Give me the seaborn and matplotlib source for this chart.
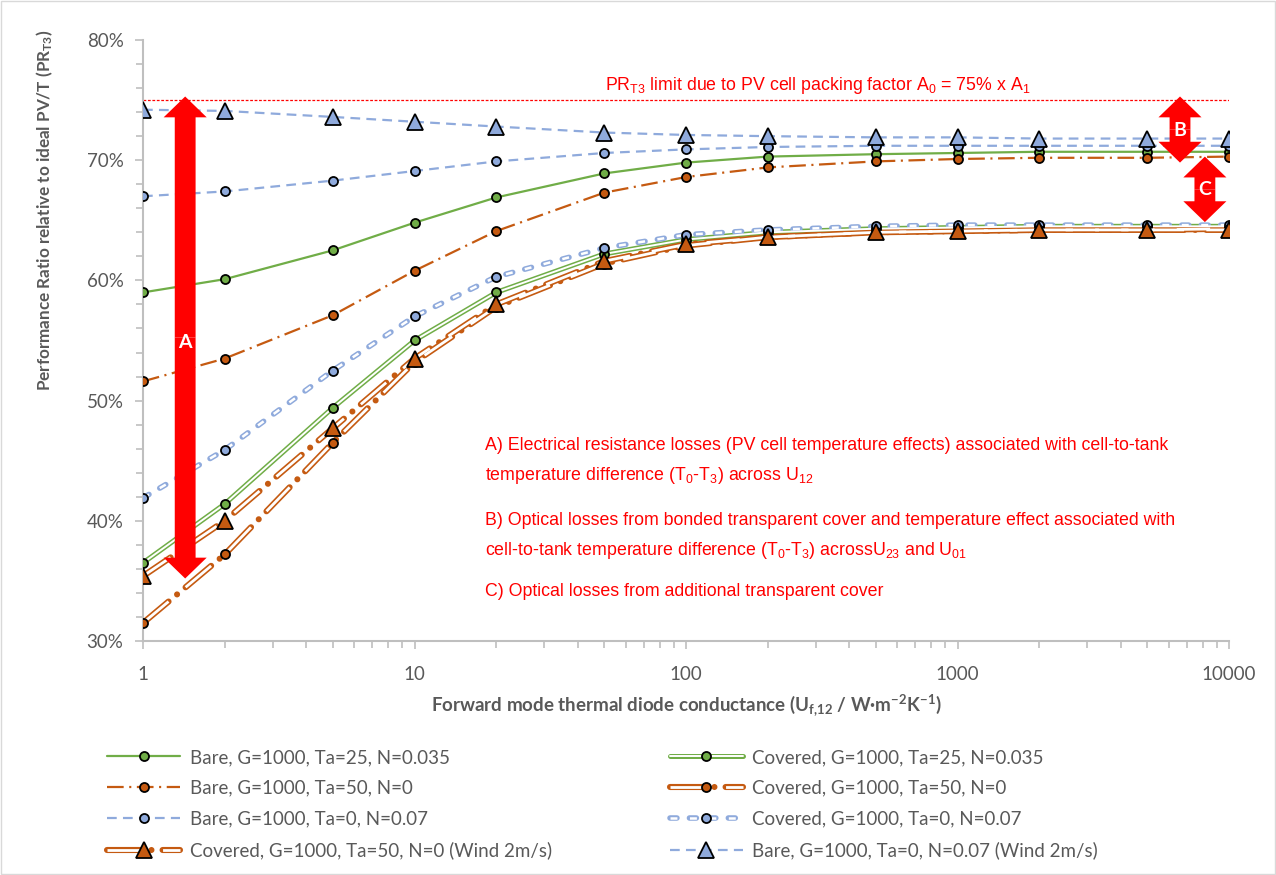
import matplotlib
matplotlib.use("Agg")
import matplotlib.pyplot as plt
import matplotlib.ticker as mticker
from matplotlib.patches import FancyArrowPatch, Rectangle
from matplotlib.legend_handler import HandlerTuple
import seaborn as sns

# ---------------------------------------------------------------------------
# Data (performance ratio in %)
# ---------------------------------------------------------------------------
conductance = [1, 2, 5, 10, 20, 50, 100, 200, 500, 1000, 2000, 5000, 10000]

bare_25 = [59.0, 60.1, 62.5, 64.8, 66.9, 68.9, 69.8, 70.3, 70.5, 70.6, 70.7, 70.7, 70.7]
bare_50 = [51.6, 53.5, 57.1, 60.8, 64.1, 67.3, 68.6, 69.4, 69.9, 70.1, 70.2, 70.2, 70.3]
bare_0 = [67.0, 67.4, 68.3, 69.1, 69.9, 70.6, 70.9, 71.1, 71.2, 71.2, 71.2, 71.2, 71.2]
bare_0_wind = [74.2, 74.1, 73.6, 73.2, 72.8, 72.3, 72.1, 72.0, 71.9, 71.9, 71.8, 71.8, 71.8]
cov_25 = [36.5, 41.4, 49.4, 55.0, 59.0, 62.2, 63.4, 64.0, 64.3, 64.4, 64.5, 64.5, 64.5]
cov_50 = [31.5, 37.2, 46.5, 53.2, 57.8, 61.4, 62.9, 63.6, 64.0, 64.1, 64.2, 64.2, 64.3]
cov_0 = [41.9, 45.9, 52.5, 57.0, 60.3, 62.7, 63.8, 64.2, 64.5, 64.6, 64.6, 64.6, 64.6]
cov_50_wind = [35.4, 40.0, 47.7, 53.5, 58.0, 61.6, 63.0, 63.6, 64.0, 64.1, 64.2, 64.2, 64.2]

pr_limit = 75.0

labels = {
    "bare_25": "Bare, G=1000, Ta=25, N=0.035",
    "bare_50": "Bare, G=1000, Ta=50, N=0",
    "bare_0": "Bare, G=1000, Ta=0, N=0.07",
    "cov_50_wind": "Covered, G=1000, Ta=50, N=0 (Wind 2m/s)",
    "cov_25": "Covered, G=1000, Ta=25, N=0.035",
    "cov_50": "Covered, G=1000, Ta=50, N=0",
    "cov_0": "Covered, G=1000, Ta=0, N=0.07",
    "bare_0_wind": "Bare, G=1000, Ta=0, N=0.07 (Wind 2m/s)",
}

GREEN = "#70AD47"
ORANGE = "#C55A11"
BLUE = "#8FAADC"
RED = "#FF0000"
GREY_TXT = "#595959"
GREY_AX = "#BFBFBF"

sns.set_theme(style="white")
plt.rcParams["font.family"] = ["Lato", "DejaVu Sans"]
plt.rcParams["mathtext.default"] = "regular"
plt.rcParams["lines.scale_dashes"] = False

fig = plt.figure(figsize=(12.76, 8.75), dpi=100)
ax = fig.add_axes([143 / 1276, 1 - 641 / 875, 1086 / 1276, 601 / 875])
ax.set_xscale("log")


def bare_line(y, color, ls, marker, ms):
    sns.lineplot(x=conductance, y=y, ax=ax, color=color, lw=1.6, linestyle=ls,
                 marker=marker, ms=ms, mfc=color, mec="black", mew=1.3,
                 errorbar=None, zorder=4)
    return ax.lines[-1]


def covered_line(y, color, ls, marker, ms, outer=4.0, inner=1.6):
    sns.lineplot(x=conductance, y=y, ax=ax, color=color, lw=outer, linestyle=ls,
                 dash_capstyle="round", solid_capstyle="round",
                 errorbar=None, zorder=3)
    outer_line = ax.lines[-1]
    sns.lineplot(x=conductance, y=y, ax=ax, color="white", lw=inner, linestyle=ls,
                 dash_capstyle="butt", solid_capstyle="round",
                 marker=marker, ms=ms, mfc=color, mec="black", mew=1.3,
                 errorbar=None, zorder=3.5)
    return (outer_line, ax.lines[-1])


dash_bare = (0, (7, 4.5))
dashdot_bare = (0, (12, 4, 1.5, 4))
dash_cov = (0, (5, 9))
longdashdot_cov = (0, (24, 8, 0.01, 8))

h_cov_25 = covered_line(cov_25, GREEN, "-", "o", 6.5, outer=3.6, inner=1.4)
h_cov_0 = covered_line(cov_0, BLUE, dash_cov, "o", 6.5, outer=4.0, inner=1.8)
h_cov_50 = covered_line(cov_50, ORANGE, longdashdot_cov, "o", 6.5, outer=4.4, inner=2.0)
h_cov_50_wind = covered_line(cov_50_wind, ORANGE, longdashdot_cov, "^", 11, outer=4.4, inner=2.0)
h_bare_25 = bare_line(bare_25, GREEN, "-", "o", 6.5)
h_bare_50 = bare_line(bare_50, ORANGE, dashdot_bare, "o", 6.5)
h_bare_0 = bare_line(bare_0, BLUE, dash_bare, "o", 6.5)
h_bare_0_wind = bare_line(bare_0_wind, BLUE, dash_bare, "^", 11)

narrow = ["Liberation Sans Narrow", "Liberation Sans", "DejaVu Sans"]

# packing-factor limit
ax.axhline(pr_limit, color=RED, lw=0.9, ls=(0, (2, 1.2)), zorder=2)
ax.text(0.425, 0.925, "PR$_{T3}$ limit due to PV cell packing factor A$_0$ = 75% x A$_1$",
        transform=ax.transAxes, color=RED, fontsize=12.8, va="center", ha="left",
        family=narrow)

# ---------------------------------------------------------------------------
# Annotation arrows
# ---------------------------------------------------------------------------
ARROW_STYLE = "simple,head_length=15,head_width=31,tail_width=15"


def double_arrow(x, y_low, y_high, letter, y_text):
    mid = (y_low + y_high) / 2
    for end in (y_low, y_high):
        ax.add_patch(FancyArrowPatch((x, mid), (x, end), arrowstyle=ARROW_STYLE,
                                     mutation_scale=1, color=RED, lw=0,
                                     shrinkA=0, shrinkB=0, zorder=6))
    ax.text(x, y_text, letter, color="white", fontsize=14, fontweight="bold",
            ha="center", va="center", zorder=7)


double_arrow(1.43, 35.2, 75.3, "A", 54.8)
double_arrow(6600, 69.8, 75.3, "B", 72.5)
double_arrow(8150, 64.85, 70.3, "C", 67.6)

notes = [
    (0.326, "A) Electrical resistance losses (PV cell temperature effects) associated with cell-to-tank"),
    (0.276, "temperature difference (T$_0$-T$_3$) across U$_{12}$"),
    (0.201, "B) Optical losses from bonded transparent cover and temperature effect associated with"),
    (0.151, "cell-to-tank temperature difference (T$_0$-T$_3$) acrossU$_{23}$ and U$_{01}$"),
    (0.082, "C) Optical losses from additional transparent cover"),
]
for y_frac, txt in notes:
    ax.text(0.315, y_frac, txt, transform=ax.transAxes, color=RED, fontsize=12.8,
            ha="left", va="center", family=narrow)

# ---------------------------------------------------------------------------
# Axes styling
# ---------------------------------------------------------------------------
ax.set_xlim(1, 10000)
ax.set_ylim(30, 80)
ax.xaxis.set_major_locator(mticker.LogLocator(base=10, numticks=10))
ax.xaxis.set_minor_locator(mticker.LogLocator(base=10, subs=range(2, 10), numticks=10))
ax.xaxis.set_major_formatter(mticker.FuncFormatter(lambda v, _: f"{v:g}"))
ax.xaxis.set_minor_formatter(mticker.NullFormatter())
ax.yaxis.set_major_locator(mticker.MultipleLocator(10))
ax.yaxis.set_minor_locator(mticker.MultipleLocator(2))
ax.yaxis.set_major_formatter(mticker.PercentFormatter(decimals=0))

sns.despine(ax=ax)
for side in ("left", "bottom"):
    ax.spines[side].set_color(GREY_AX)
    ax.spines[side].set_linewidth(1.5)
ax.tick_params(which="both", direction="out", color=GREY_AX, width=1.2,
               labelcolor=GREY_TXT, labelsize=13.5, bottom=True, left=True)
ax.tick_params(which="major", length=6)
ax.tick_params(which="minor", length=5)
ax.tick_params(axis="x", which="major", pad=12)
ax.tick_params(axis="y", which="major", pad=8)
ax.grid(False)

ax.set_xlabel("Forward mode thermal diode conductance (U$_{f{,}12}$ / W·m$^{-2}$K$^{-1}$)",
              fontsize=13.5, fontweight="bold", color=GREY_TXT)
ax.set_ylabel("Performance Ratio relative to ideal PV/T (PR$_{T3}$)",
              fontsize=12.3, fontweight="bold", color=GREY_TXT)
ax.xaxis.set_label_coords(0.5, -0.085)
ax.yaxis.set_label_coords(-0.081, 0.717)

handles = [h_bare_25, h_bare_50, h_bare_0, h_cov_50_wind,
           h_cov_25, h_cov_50, h_cov_0, h_bare_0_wind]
names = [labels[k] for k in ["bare_25", "bare_50", "bare_0", "cov_50_wind",
                             "cov_25", "cov_50", "cov_0", "bare_0_wind"]]
leg = fig.legend(handles, names, loc="upper left", bbox_to_anchor=(107 / 1276, 1 - 749 / 875),
                 ncol=2, frameon=False, fontsize=13.5, handlelength=3.9,
                 handletextpad=0.5, columnspacing=6.3, labelspacing=0.74,
                 borderpad=0, borderaxespad=0,
                 handler_map={tuple: HandlerTuple(ndivide=1)})
for t in leg.get_texts():
    t.set_color(GREY_TXT)

fig.patches.append(Rectangle((0.001, 0.001), 0.998, 0.998, transform=fig.transFigure,
                             fill=False, ec="#D9D9D9", lw=1))

fig.savefig("out.png", dpi=100)
